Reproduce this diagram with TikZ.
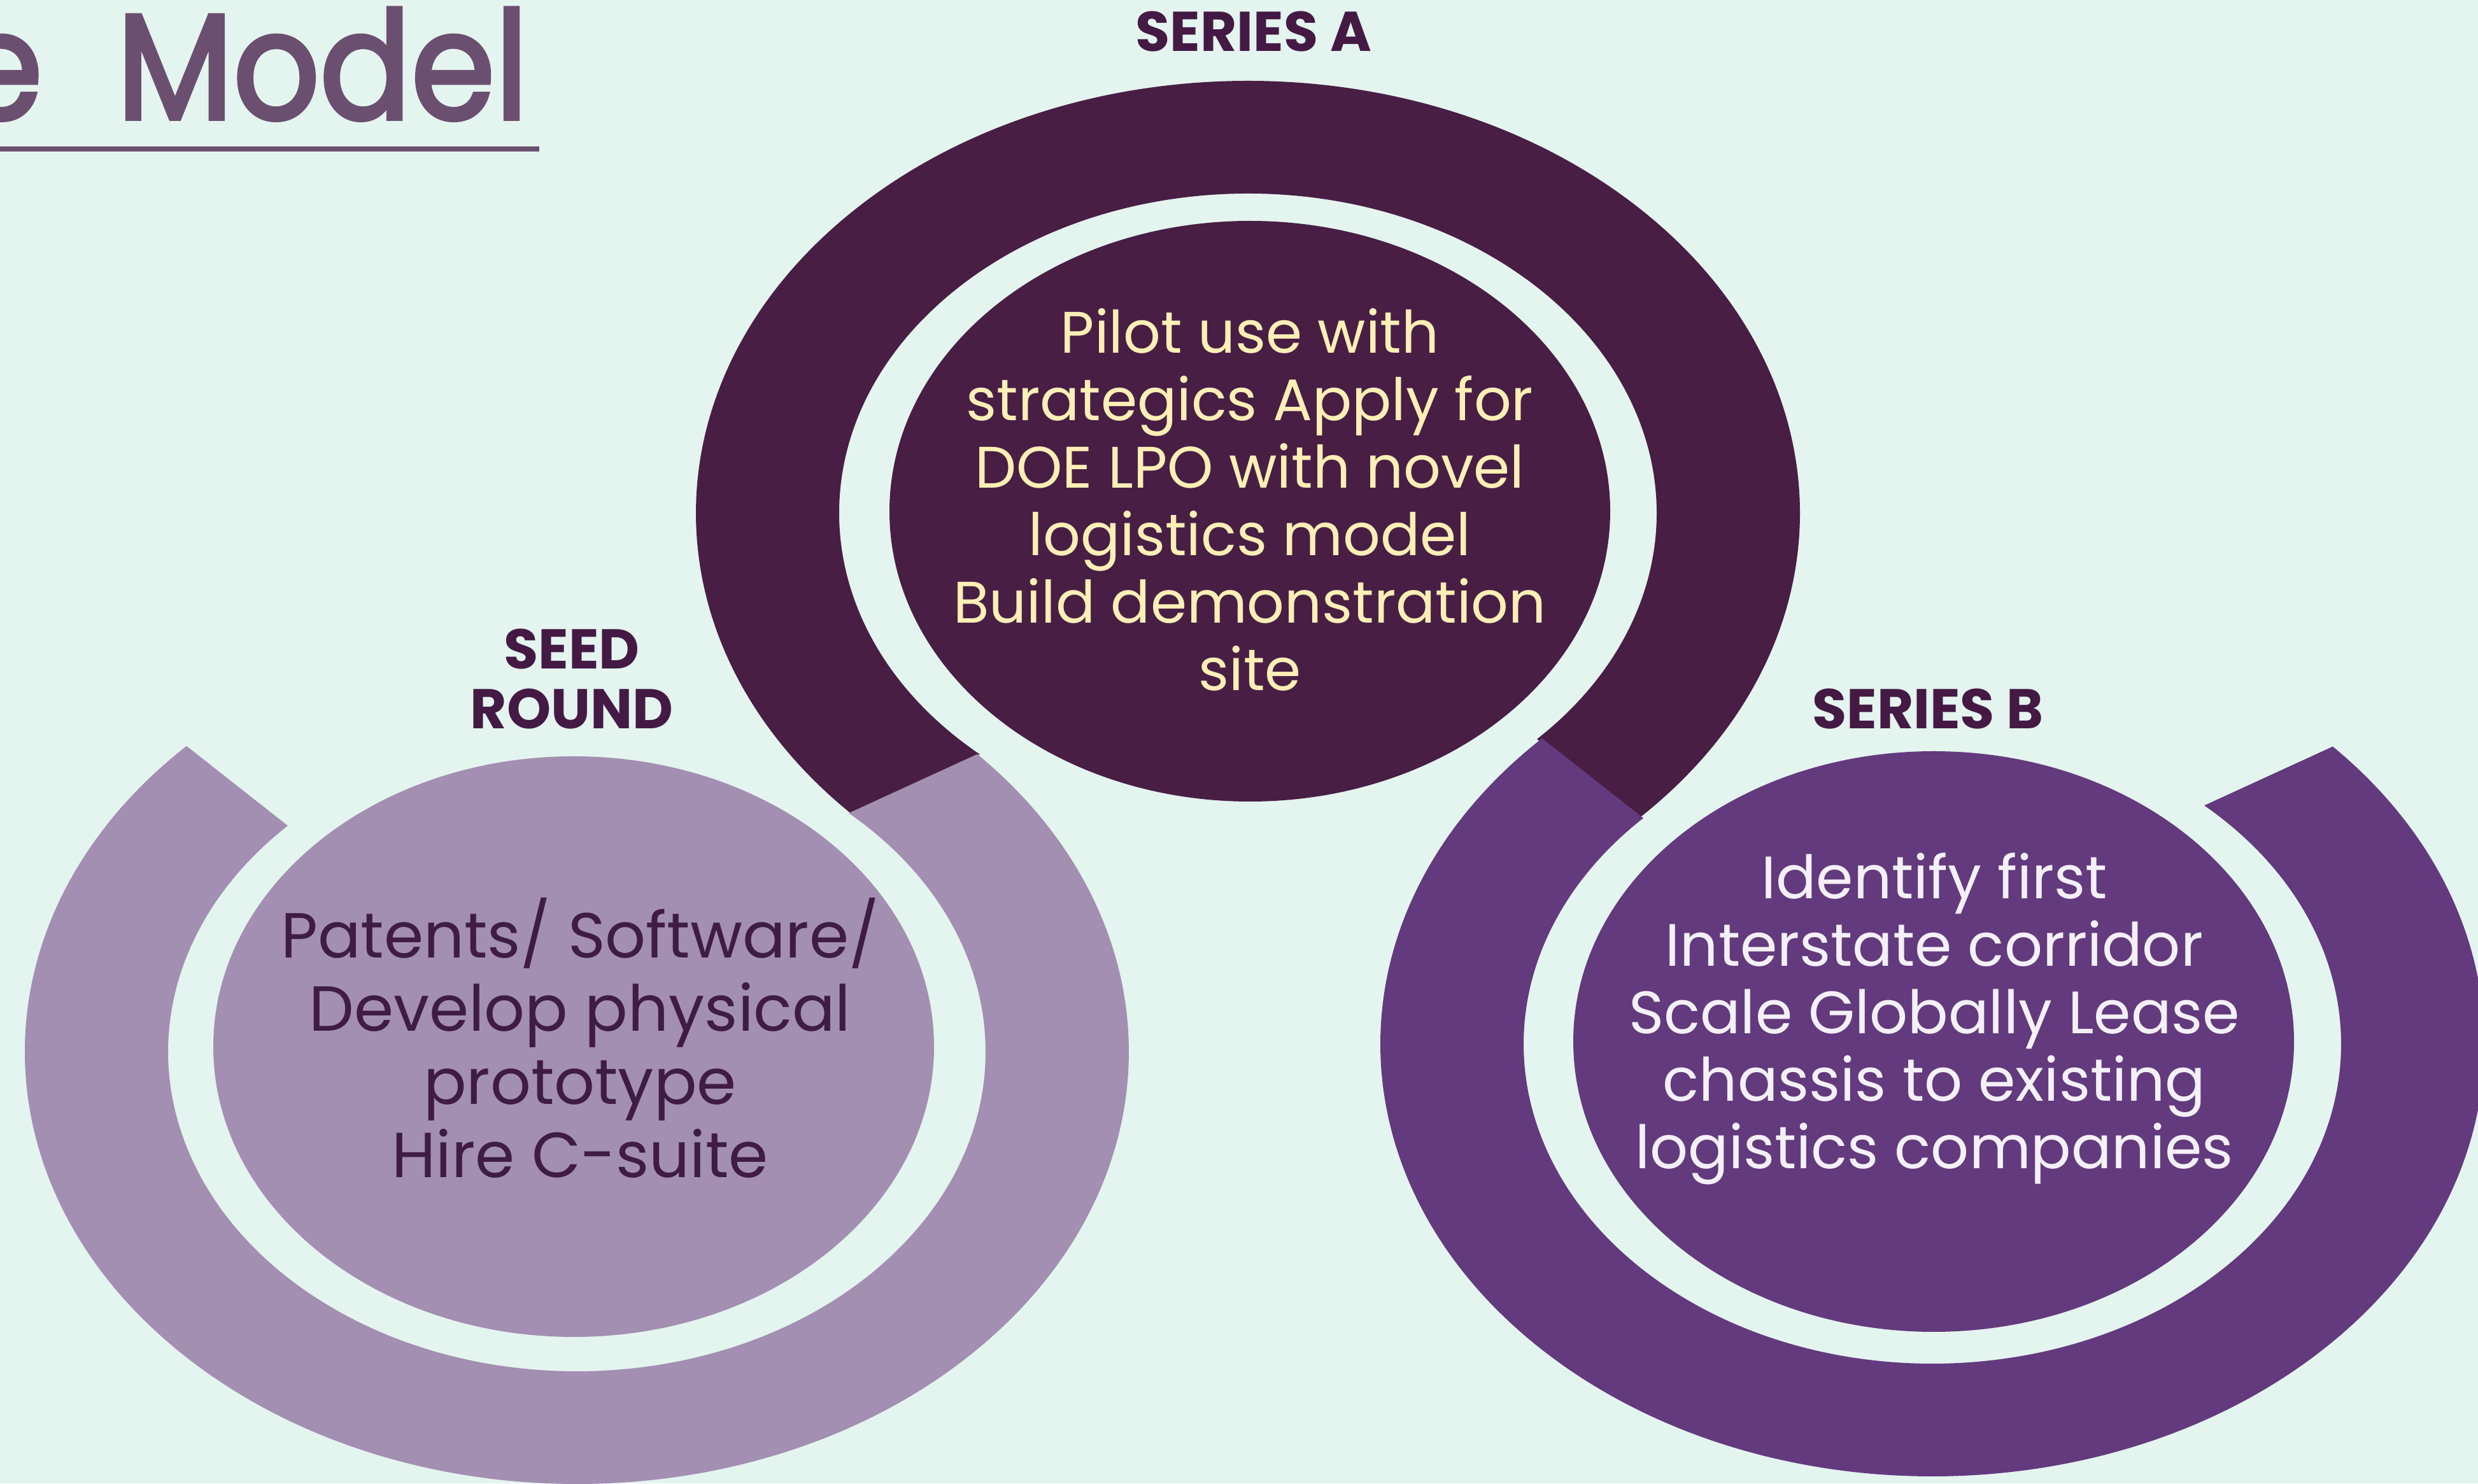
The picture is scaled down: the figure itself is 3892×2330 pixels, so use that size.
\documentclass[tikz,border=0pt]{standalone}
\usepackage{fontspec}
\setmainfont{Poppins}
\newfontfamily\titlefont[FakeBold=2.5, FakeStretch=0.9]{Poppins}
\definecolor{bgc}{RGB}{228,244,239}
\definecolor{colA}{RGB}{72,30,69}
\definecolor{colS}{RGB}{163,143,178}
\definecolor{colB}{RGB}{99,58,125}
\definecolor{titlec}{RGB}{107,79,112}
\definecolor{labelc}{RGB}{68,26,69}
\definecolor{txtA}{RGB}{253,239,181}
\definecolor{txtS}{RGB}{63,28,69}
\definecolor{txtB}{RGB}{244,240,248}
\tikzset{
  lbl/.style={inner sep=0pt, text=labelc, font=\fontsize{88}{94}\selectfont\bfseries, align=center},
  bodyA/.style={inner sep=0pt, align=center, font=\fontsize{92}{106}\selectfont},
  bodyB/.style={inner sep=0pt, align=center, font=\fontsize{94}{106}\selectfont},
  bodyS/.style={inner sep=0pt, align=center, font=\fontsize{100}{115}\selectfont},
}
\begin{document}
\begin{tikzpicture}[x=1pt,y=1pt]
\useasboundingbox (0,0) rectangle (3892,2330);
\clip (0,0) rectangle (3892,2330);
\fill[bgc] (0,0) rectangle (3892,2330);
% centres
\coordinate (cA) at (1960,1524);
\coordinate (cS) at (906,678);
\coordinate (cB) at (3035,690);
% Series A ring
\fill[colA] ([shift={(cA)}]-45:867 and 679)
  arc[start angle=-45, end angle=224, x radius=867, y radius=679]
  -- ([shift={(cA)}]229:642 and 502)
  arc[start angle=229, end angle=-45, x radius=642, y radius=502] -- cycle;
\fill[colA] (1963,1527) ellipse[x radius=566, y radius=456];
% Seed ring
\fill[colS] ([shift={(cS)}]135:867 and 679)
  arc[start angle=135, end angle=403.5, x radius=867, y radius=679]
  -- ([shift={(cS)}]48.3:642 and 502)
  arc[start angle=408.3, end angle=135, x radius=642, y radius=502] -- cycle;
\fill[colS] (901,686) ellipse[x radius=566, y radius=456];
% Series B ring
\fill[colB] ([shift={(cB)}]135:867 and 679)
  arc[start angle=135, end angle=403.5, x radius=867, y radius=679]
  -- ([shift={(cB)}]48.3:642 and 502)
  arc[start angle=408.3, end angle=135, x radius=642, y radius=502] -- cycle;
\fill[colB] (3037,694) ellipse[x radius=566, y radius=456];
% title
\node[anchor=base east, inner sep=0pt, text=titlec, font=\titlefont\fontsize{236}{236}\selectfont] (title) at (830,2143) {e\hspace{60pt} Model};
\fill[titlec] (0,2092) rectangle (847,2100);
% labels
\node[lbl, anchor=base] (labA) at (1969,2249) {SERIES A};
\node[lbl] (labS) at (898,1264) {SEED\\ROUND};
\node[lbl, anchor=base] (labB) at (3028,1185) {SERIES B};
% texts
\node[bodyA, text=txtA] (tA) at (1963,1545) {Pilot use with\\strategics Apply for\\DOE LPO with novel\\logistics model\\Build demonstration\\site};
\node[bodyS, text=txtS] (tS) at (911,700) {Patents/ Software/\\Develop physical\\prototype\\Hire C-suite};
\node[bodyB, text=txtB] (tB) at (3038,730) {Identify first\\Interstate corridor\\Scale Globally Lease\\chassis to existing\\logistics companies};
\end{tikzpicture}
\end{document}
